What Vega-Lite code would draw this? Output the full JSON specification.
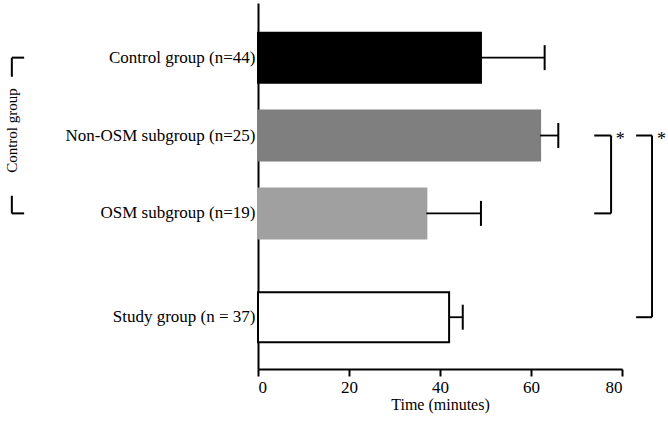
{
  "$schema": "https://vega.github.io/schema/vega-lite/v6.json",
  "width": 364,
  "height": 366,
  "autosize": {"type": "none"},
  "padding": {"left": 258, "top": 3, "right": 46, "bottom": 56},
  "background": "white",
  "config": {
    "view": {"stroke": null},
    "font": "Liberation Serif",
    "axis": {
      "labelFont": "Liberation Serif", "titleFont": "Liberation Serif",
      "labelColor": "black", "titleColor": "black",
      "domainColor": "black", "tickColor": "black",
      "titleFontSize": 16, "titleFontWeight": "normal",
      "grid": false, "domainWidth": 2
    },
    "axisX": {"tickWidth": 2, "tickSize": 7, "labelPadding": 3, "titlePadding": 1, "labelFontSize": 17},
    "axisY": {"ticks": false, "labelPadding": 3, "labelFontSize": 17, "labelLimit": 300}
  },
  "datasets": {
    "bars": [
      {"group": "Control group (n=44)", "mean": 49, "upper": 63},
      {"group": "Non-OSM subgroup (n=25)", "mean": 62, "upper": 66},
      {"group": "OSM subgroup (n=19)", "mean": 37, "upper": 49},
      {"group": "Study group (n = 37)", "mean": 42, "upper": 45}
    ],
    "hticks": [
      {"group": "Non-OSM subgroup (n=25)", "a": 73.9, "b": 77.6},
      {"group": "OSM subgroup (n=19)", "a": 73.9, "b": 77.6},
      {"group": "Non-OSM subgroup (n=25)", "a": 83.1, "b": 86.6},
      {"group": "Study group (n = 37)", "a": 83.1, "b": 86.6},
      {"group": "Control group (n=44)", "a": -54.1, "b": -51.4},
      {"group": "OSM subgroup (n=19)", "a": -54.1, "b": -51.4}
    ],
    "vlines": [
      {"group": "Non-OSM subgroup (n=25)", "group2": "OSM subgroup (n=19)", "a": 77.6},
      {"group": "Non-OSM subgroup (n=25)", "group2": "Study group (n = 37)", "a": 86.6}
    ],
    "leftline": [
      {"group": "Control group (n=44)", "group2": "OSM subgroup (n=19)", "a": -54.1}
    ],
    "stars": [
      {"group": "Non-OSM subgroup (n=25)", "a": 79.6, "label": "*"},
      {"group": "Non-OSM subgroup (n=25)", "a": 88.7, "label": "*"}
    ],
    "leftlabel": [
      {"group": "Non-OSM subgroup (n=25)", "a": -54.1, "label": "Control group"}
    ]
  },
  "encoding": {
    "y": {
      "field": "group", "type": "nominal",
      "scale": {
        "domain": ["~a", "Control group (n=44)", "~1", "~2", "Non-OSM subgroup (n=25)", "~3", "~4", "OSM subgroup (n=19)", "~5", "~6", "~7", "Study group (n = 37)", "~b"],
        "paddingInner": 0, "paddingOuter": 0.55, "align": 0.55, "round": false
      },
      "axis": {"title": null, "labelExpr": "indexof(datum.label, '~') == 0 ? '' : datum.label"}
    }
  },
  "layer": [
    {
      "data": {"name": "bars"},
      "mark": {"type": "bar", "strokeWidth": 2, "size": 50},
      "encoding": {
        "x": {"field": "mean", "type": "quantitative", "scale": {"domain": [0, 80]}, "title": "Time (minutes)", "axis": {"values": [0, 20, 40, 60, 80]}},
        "fill": {"field": "group", "type": "nominal", "legend": null,
          "scale": {"domain": ["Control group (n=44)", "Non-OSM subgroup (n=25)", "OSM subgroup (n=19)", "Study group (n = 37)"],
                    "range": ["#000000", "#7f7f7f", "#a0a0a0", "#ffffff"]}},
        "stroke": {"field": "group", "type": "nominal", "legend": null,
          "scale": {"domain": ["Control group (n=44)", "Non-OSM subgroup (n=25)", "OSM subgroup (n=19)", "Study group (n = 37)"],
                    "range": ["#000000", "#7f7f7f", "#a0a0a0", "#000000"]}}
      }
    },
    {
      "data": {"name": "bars"},
      "mark": {"type": "rule", "strokeWidth": 1.8, "color": "black"},
      "encoding": {
        "x": {"field": "mean", "type": "quantitative", "scale": {"domain": [0, 80]}, "title": "Time (minutes)", "axis": {"values": [0, 20, 40, 60, 80]}},
        "x2": {"field": "upper"}
      }
    },
    {
      "data": {"name": "bars"},
      "mark": {"type": "tick", "size": 25, "thickness": 2, "color": "black", "opacity": 1},
      "encoding": {
        "x": {"field": "upper", "type": "quantitative", "scale": {"domain": [0, 80]}, "title": "Time (minutes)", "axis": {"values": [0, 20, 40, 60, 80]}}
      }
    },
    {
      "data": {"name": "hticks"},
      "mark": {"type": "rule", "strokeWidth": 2, "color": "black"},
      "encoding": {
        "x": {"field": "a", "type": "quantitative", "scale": {"domain": [0, 80]}, "title": "Time (minutes)", "axis": {"values": [0, 20, 40, 60, 80]}},
        "x2": {"field": "b"}
      }
    },
    {
      "data": {"name": "vlines"},
      "mark": {"type": "rule", "strokeWidth": 2, "color": "black"},
      "encoding": {
        "x": {"field": "a", "type": "quantitative", "scale": {"domain": [0, 80]}, "title": "Time (minutes)", "axis": {"values": [0, 20, 40, 60, 80]}},
        "y2": {"field": "group2"}
      }
    },
    {
      "data": {"name": "leftline"},
      "mark": {"type": "rule", "strokeWidth": 2, "color": "black", "strokeDash": [19, 119, 30]},
      "encoding": {
        "x": {"field": "a", "type": "quantitative", "scale": {"domain": [0, 80]}, "title": "Time (minutes)", "axis": {"values": [0, 20, 40, 60, 80]}},
        "y2": {"field": "group2"}
      }
    },
    {
      "data": {"name": "stars"},
      "mark": {"type": "text", "fontSize": 18, "font": "Liberation Serif", "color": "black", "align": "center", "baseline": "middle", "dy": 4},
      "encoding": {
        "x": {"field": "a", "type": "quantitative", "scale": {"domain": [0, 80]}, "title": "Time (minutes)", "axis": {"values": [0, 20, 40, 60, 80]}},
        "text": {"field": "label"}
      }
    },
    {
      "data": {"name": "leftlabel"},
      "mark": {"type": "text", "fontSize": 15, "font": "Liberation Serif", "color": "black", "align": "center", "baseline": "middle", "angle": 270, "dx": 5},
      "encoding": {
        "x": {"field": "a", "type": "quantitative", "scale": {"domain": [0, 80]}, "title": "Time (minutes)", "axis": {"values": [0, 20, 40, 60, 80]}},
        "text": {"field": "label"}
      }
    }
  ]
}
